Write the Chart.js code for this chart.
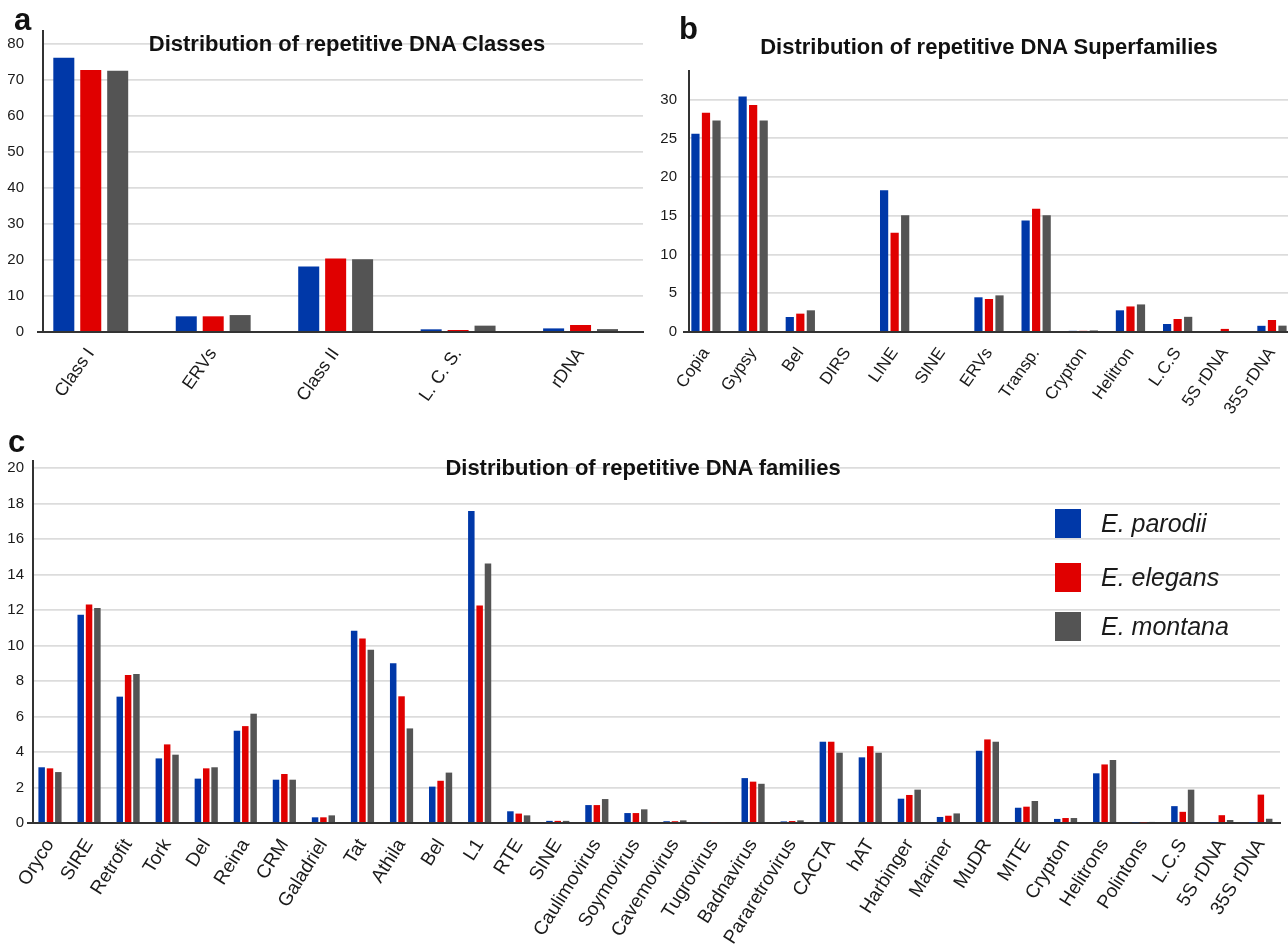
<!DOCTYPE html>
<html lang="en">
<head>
  <meta charset="UTF-8" />
  <title>Distribution of repetitive DNA</title>
  <script src="https://cdn.jsdelivr.net/npm/chart.js"></script>
  <style>
    body { margin: 0; background: #fff; font-family: "Liberation Sans", Arial, sans-serif; }
    #page { position: relative; width: 1288px; height: 944px; overflow: hidden; }
    canvas { position: absolute; }
    .panel { position: absolute; font-weight: bold; font-size: 31px; line-height: 1; color: #111; }
    .title { position: absolute; font-weight: bold; font-size: 22px; color: #111; white-space: nowrap; transform: translate(-50%, -50%); }
    .legend { position: absolute; left: 1055px; height: 29px; display: flex; align-items: center; font-style: italic; font-size: 25px; color: #1a1a1a; }
    .legend .sw { width: 26px; height: 29px; margin-right: 20px; }
  </style>
</head>
<body>
  <div id="page">
    <canvas id="classChart" width="645" height="440" style="left:0;top:0"></canvas>
    <canvas id="superChart" width="643" height="440" style="left:645px;top:0"></canvas>
    <canvas id="familyChart" width="1288" height="504" style="left:0;top:440px"></canvas>

    <div class="panel" style="left:14px;top:4px">a</div>
    <div class="panel" style="left:679px;top:13px">b</div>
    <div class="panel" style="left:8px;top:426px">c</div>

    <div class="title" style="left:347px;top:44px">Distribution of repetitive DNA Classes</div>
    <div class="title" style="left:989px;top:47px">Distribution of repetitive DNA Superfamilies</div>
    <div class="title" style="left:643px;top:468px">Distribution of repetitive DNA families</div>

    <div id="legend"></div>
  </div>

  <script>
    // species
    const speciesNames = ['E. parodii', 'E. elegans', 'E. montana'];
    const speciesColors = ['#0038a8', '#e00000', '#545454'];

    // (a) classes
    const classLabels = ['Class I', 'ERVs', 'Class II', 'L. C. S.', 'rDNA'];
    const classParodii = [76.1, 4.35, 18.2, 0.74, 1.0];
    const classElegans = [72.7, 4.35, 20.4, 0.55, 1.94];
    const classMontana = [72.5, 4.7, 20.2, 1.76, 0.8];

    // (b) superfamilies
    const superLabels = ['Copia', 'Gypsy', 'Bel', 'DIRS', 'LINE', 'SINE', 'ERVs', 'Transp.', 'Crypton', 'Helitron', 'L.C.S', '5S rDNA', '35S rDNA'];
    const superParodii = [25.6, 30.4, 1.94, 0, 18.3, 0, 4.48, 14.4, 0.15, 2.8, 1.03, 0, 0.8];
    const superElegans = [28.3, 29.3, 2.37, 0, 12.8, 0, 4.26, 15.9, 0.15, 3.3, 1.68, 0.4, 1.55];
    const superMontana = [27.3, 27.3, 2.8, 0, 15.07, 0, 4.73, 15.07, 0.2, 3.56, 1.96, 0, 0.82];

    // (c) families
    const familyLabels = ['Oryco', 'SIRE', 'Retrofit', 'Tork', 'Del', 'Reina', 'CRM', 'Galadriel', 'Tat', 'Athila', 'Bel', 'L1', 'RTE', 'SINE',
      'Caulimovirus', 'Soymovirus', 'Cavemovirus', 'Tugrovirus', 'Badnavirus', 'Pararetrovirus', 'CACTA', 'hAT', 'Harbinger', 'Mariner',
      'MuDR', 'MITE', 'Crypton', 'Helitrons', 'Polintons', 'L.C.S', '5S rDNA', '35S rDNA'];
    const familyParodii = [3.14, 11.74, 7.12, 3.64, 2.5, 5.2, 2.44, 0.32, 10.84, 9.0, 2.05, 17.58, 0.66, 0.12, 1.01, 0.56, 0.1, 0.05,
      2.53, 0.09, 4.58, 3.7, 1.37, 0.34, 4.07, 0.86, 0.23, 2.8, 0.04, 0.95, 0.03, 0.03];
    const familyElegans = [3.08, 12.32, 8.34, 4.43, 3.08, 5.46, 2.76, 0.32, 10.4, 7.14, 2.38, 12.26, 0.53, 0.12, 1.01, 0.56, 0.1, 0.05,
      2.33, 0.11, 4.58, 4.33, 1.58, 0.41, 4.71, 0.92, 0.28, 3.3, 0.04, 0.63, 0.44, 1.6];
    const familyMontana = [2.87, 12.11, 8.39, 3.85, 3.14, 6.16, 2.44, 0.43, 9.77, 5.33, 2.84, 14.63, 0.43, 0.12, 1.35, 0.77, 0.15, 0.05,
      2.21, 0.15, 3.96, 3.96, 1.88, 0.54, 4.58, 1.24, 0.28, 3.55, 0.06, 1.88, 0.17, 0.24];

    const FONT = '"Liberation Sans", Arial, sans-serif';

    function buildChart(id, labels, series, g) {
      return new Chart(document.getElementById(id), {
        type: 'bar',
        data: {
          datasets: series.map((vals, k) => ({
            label: speciesNames[k],
            data: vals.map((v, i) => ({ x: i, y: v })),
            backgroundColor: speciesColors[k],
            borderWidth: 0,
            categoryPercentage: g.catPct,
            barPercentage: 0.78
          }))
        },
        options: {
          responsive: false,
          animation: false,
          layout: { padding: g.padding },
          plugins: { legend: { display: false }, tooltip: { enabled: false } },
          scales: {
            x: {
              type: 'linear',
              offset: false,
              min: g.xMin,
              max: g.xMax,
              grid: { display: false },
              border: { color: '#333', width: 2 },
              afterBuildTicks: axis => { axis.ticks = labels.map((_, i) => ({ value: i })); },
              afterFit: axis => { axis.height = g.xHeight; axis.paddingLeft = 0; axis.paddingRight = 0; },
              ticks: {
                autoSkip: false,
                minRotation: g.rotation,
                maxRotation: g.rotation,
                padding: 4,
                color: '#1a1a1a',
                font: { family: FONT, size: g.labelSize },
                callback: v => labels[v]
              }
            },
            y: {
              min: 0,
              max: g.yMax,
              border: { color: '#333', width: 2 },
              grid: {
                color: c => c.tick.value === 0 ? '#333' : '#dcdcdc',
                lineWidth: c => c.tick.value === 0 ? 2 : 1.8,
                tickLength: 6,
                tickColor: c => c.tick.value === 0 ? '#333' : 'rgba(0,0,0,0)'
              },
              afterFit: axis => { axis.width = g.yWidth; axis.paddingTop = 0; axis.paddingBottom = 0; },
              ticks: {
                stepSize: g.yStep,
                includeBounds: false,
                padding: g.yPad,
                color: '#1a1a1a',
                font: { family: FONT, size: 15 }
              }
            }
          }
        }
      });
    }

    buildChart('classChart', classLabels, [classParodii, classElegans, classMontana], {
      padding: { top: 31, right: 2, bottom: 0, left: 0 },
      yWidth: 43, xHeight: 108, xMin: -0.39, xMax: 4.51,
      yMax: 83.5, yStep: 10, yPad: 13, catPct: 0.66, rotation: 55, labelSize: 18
    });

    buildChart('superChart', superLabels, [superParodii, superElegans, superMontana], {
      padding: { top: 71, right: 0, bottom: 0, left: 0 },
      yWidth: 44, xHeight: 108, xMin: -0.36, xMax: 12.34,
      yMax: 33.7, yStep: 5, yPad: 6, catPct: 0.67, rotation: 55, labelSize: 17
    });

    buildChart('familyChart', familyLabels, [familyParodii, familyElegans, familyMontana], {
      padding: { top: 21, right: 8, bottom: 0, left: 0 },
      yWidth: 33, xHeight: 121, xMin: -0.435, xMax: 31.49,
      yMax: 20.4, yStep: 2, yPad: 3, catPct: 0.64, rotation: 58, labelSize: 19
    });

    // legend inside panel c
    const legendTops = [509, 563, 612];
    document.getElementById('legend').innerHTML = speciesNames.map((name, k) =>
      `<div class="legend" style="top:${legendTops[k]}px"><div class="sw" style="background:${speciesColors[k]}"></div>${name}</div>`
    ).join('');
  </script>
</body>
</html>
